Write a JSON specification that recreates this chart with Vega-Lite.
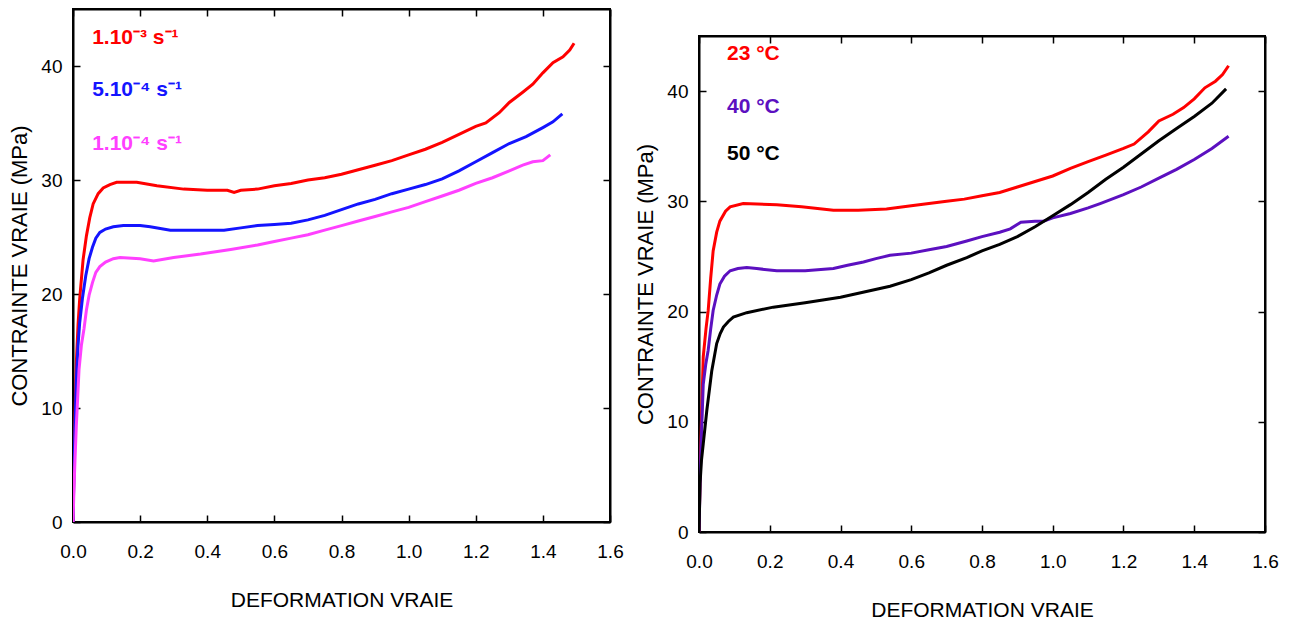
{
  "$schema": "https://vega.github.io/schema/vega-lite/v6.json",
  "background": "white",
  "padding": {"left": 7, "top": 7, "right": 5, "bottom": 5},
  "spacing": 8,
  "config": {
    "view": {"stroke": "black", "strokeWidth": 2},
    "axis": {
      "domainColor": "black", "domainWidth": 2,
      "tickColor": "black", "tickWidth": 1.5, "tickSize": -7,
      "labelFlush": false, "grid": false,
      "labelFont": "Liberation Sans", "labelFontSize": 19, "labelColor": "black",
      "titleFont": "Liberation Sans", "titleFontWeight": "normal", "titleColor": "black"
    },
    "axisX": {"labelPadding": 27, "titleFontSize": 21, "titlePadding": 28},
    "axisY": {"labelPadding": 18, "titleFontSize": 22, "titlePadding": 9}
  },
  "datasets": {
    "curves": [
      {"p":"L","s":"1.10⁻³ s⁻¹","x":0,"y":0},{"p":"L","s":"1.10⁻³ s⁻¹","x":0.003,"y":5},{"p":"L","s":"1.10⁻³ s⁻¹","x":0.006,"y":9.5},{"p":"L","s":"1.10⁻³ s⁻¹","x":0.01,"y":14},{"p":"L","s":"1.10⁻³ s⁻¹","x":0.015,"y":17.3},{"p":"L","s":"1.10⁻³ s⁻¹","x":0.02,"y":19.6},{"p":"L","s":"1.10⁻³ s⁻¹","x":0.03,"y":23},{"p":"L","s":"1.10⁻³ s⁻¹","x":0.04,"y":25.1},{"p":"L","s":"1.10⁻³ s⁻¹","x":0.05,"y":26.7},{"p":"L","s":"1.10⁻³ s⁻¹","x":0.06,"y":27.9},{"p":"L","s":"1.10⁻³ s⁻¹","x":0.075,"y":28.8},{"p":"L","s":"1.10⁻³ s⁻¹","x":0.09,"y":29.3},{"p":"L","s":"1.10⁻³ s⁻¹","x":0.11,"y":29.6},{"p":"L","s":"1.10⁻³ s⁻¹","x":0.13,"y":29.8},{"p":"L","s":"1.10⁻³ s⁻¹","x":0.19,"y":29.8},{"p":"L","s":"1.10⁻³ s⁻¹","x":0.25,"y":29.5},{"p":"L","s":"1.10⁻³ s⁻¹","x":0.33,"y":29.2},{"p":"L","s":"1.10⁻³ s⁻¹","x":0.4,"y":29.1},{"p":"L","s":"1.10⁻³ s⁻¹","x":0.46,"y":29.1},{"p":"L","s":"1.10⁻³ s⁻¹","x":0.48,"y":28.9},{"p":"L","s":"1.10⁻³ s⁻¹","x":0.5,"y":29.1},{"p":"L","s":"1.10⁻³ s⁻¹","x":0.55,"y":29.2},{"p":"L","s":"1.10⁻³ s⁻¹","x":0.6,"y":29.5},{"p":"L","s":"1.10⁻³ s⁻¹","x":0.65,"y":29.7},{"p":"L","s":"1.10⁻³ s⁻¹","x":0.7,"y":30.0},{"p":"L","s":"1.10⁻³ s⁻¹","x":0.75,"y":30.2},{"p":"L","s":"1.10⁻³ s⁻¹","x":0.8,"y":30.5},{"p":"L","s":"1.10⁻³ s⁻¹","x":0.85,"y":30.9},{"p":"L","s":"1.10⁻³ s⁻¹","x":0.9,"y":31.3},{"p":"L","s":"1.10⁻³ s⁻¹","x":0.95,"y":31.7},{"p":"L","s":"1.10⁻³ s⁻¹","x":1.0,"y":32.2},{"p":"L","s":"1.10⁻³ s⁻¹","x":1.05,"y":32.7},{"p":"L","s":"1.10⁻³ s⁻¹","x":1.1,"y":33.3},{"p":"L","s":"1.10⁻³ s⁻¹","x":1.15,"y":34.0},{"p":"L","s":"1.10⁻³ s⁻¹","x":1.2,"y":34.7},{"p":"L","s":"1.10⁻³ s⁻¹","x":1.23,"y":35.0},{"p":"L","s":"1.10⁻³ s⁻¹","x":1.27,"y":35.9},{"p":"L","s":"1.10⁻³ s⁻¹","x":1.3,"y":36.8},{"p":"L","s":"1.10⁻³ s⁻¹","x":1.34,"y":37.7},{"p":"L","s":"1.10⁻³ s⁻¹","x":1.37,"y":38.4},{"p":"L","s":"1.10⁻³ s⁻¹","x":1.4,"y":39.4},{"p":"L","s":"1.10⁻³ s⁻¹","x":1.43,"y":40.3},{"p":"L","s":"1.10⁻³ s⁻¹","x":1.46,"y":40.8},{"p":"L","s":"1.10⁻³ s⁻¹","x":1.48,"y":41.4},{"p":"L","s":"1.10⁻³ s⁻¹","x":1.493,"y":42.0},
      {"p":"L","s":"5.10⁻⁴ s⁻¹","x":0,"y":0},{"p":"L","s":"5.10⁻⁴ s⁻¹","x":0.003,"y":4.5},{"p":"L","s":"5.10⁻⁴ s⁻¹","x":0.006,"y":8.5},{"p":"L","s":"5.10⁻⁴ s⁻¹","x":0.01,"y":12.5},{"p":"L","s":"5.10⁻⁴ s⁻¹","x":0.015,"y":15.5},{"p":"L","s":"5.10⁻⁴ s⁻¹","x":0.02,"y":17.5},{"p":"L","s":"5.10⁻⁴ s⁻¹","x":0.028,"y":19.6},{"p":"L","s":"5.10⁻⁴ s⁻¹","x":0.038,"y":21.6},{"p":"L","s":"5.10⁻⁴ s⁻¹","x":0.048,"y":23.1},{"p":"L","s":"5.10⁻⁴ s⁻¹","x":0.058,"y":24.1},{"p":"L","s":"5.10⁻⁴ s⁻¹","x":0.068,"y":24.9},{"p":"L","s":"5.10⁻⁴ s⁻¹","x":0.08,"y":25.4},{"p":"L","s":"5.10⁻⁴ s⁻¹","x":0.097,"y":25.7},{"p":"L","s":"5.10⁻⁴ s⁻¹","x":0.12,"y":25.9},{"p":"L","s":"5.10⁻⁴ s⁻¹","x":0.15,"y":26.0},{"p":"L","s":"5.10⁻⁴ s⁻¹","x":0.2,"y":26.0},{"p":"L","s":"5.10⁻⁴ s⁻¹","x":0.23,"y":25.9},{"p":"L","s":"5.10⁻⁴ s⁻¹","x":0.29,"y":25.6},{"p":"L","s":"5.10⁻⁴ s⁻¹","x":0.35,"y":25.6},{"p":"L","s":"5.10⁻⁴ s⁻¹","x":0.45,"y":25.6},{"p":"L","s":"5.10⁻⁴ s⁻¹","x":0.5,"y":25.8},{"p":"L","s":"5.10⁻⁴ s⁻¹","x":0.55,"y":26.0},{"p":"L","s":"5.10⁻⁴ s⁻¹","x":0.6,"y":26.1},{"p":"L","s":"5.10⁻⁴ s⁻¹","x":0.65,"y":26.2},{"p":"L","s":"5.10⁻⁴ s⁻¹","x":0.7,"y":26.5},{"p":"L","s":"5.10⁻⁴ s⁻¹","x":0.75,"y":26.9},{"p":"L","s":"5.10⁻⁴ s⁻¹","x":0.8,"y":27.4},{"p":"L","s":"5.10⁻⁴ s⁻¹","x":0.85,"y":27.9},{"p":"L","s":"5.10⁻⁴ s⁻¹","x":0.9,"y":28.3},{"p":"L","s":"5.10⁻⁴ s⁻¹","x":0.95,"y":28.8},{"p":"L","s":"5.10⁻⁴ s⁻¹","x":1.0,"y":29.2},{"p":"L","s":"5.10⁻⁴ s⁻¹","x":1.05,"y":29.6},{"p":"L","s":"5.10⁻⁴ s⁻¹","x":1.1,"y":30.1},{"p":"L","s":"5.10⁻⁴ s⁻¹","x":1.15,"y":30.8},{"p":"L","s":"5.10⁻⁴ s⁻¹","x":1.2,"y":31.6},{"p":"L","s":"5.10⁻⁴ s⁻¹","x":1.25,"y":32.4},{"p":"L","s":"5.10⁻⁴ s⁻¹","x":1.3,"y":33.2},{"p":"L","s":"5.10⁻⁴ s⁻¹","x":1.35,"y":33.8},{"p":"L","s":"5.10⁻⁴ s⁻¹","x":1.4,"y":34.6},{"p":"L","s":"5.10⁻⁴ s⁻¹","x":1.43,"y":35.1},{"p":"L","s":"5.10⁻⁴ s⁻¹","x":1.458,"y":35.8},
      {"p":"L","s":"1.10⁻⁴ s⁻¹","x":0,"y":0},{"p":"L","s":"1.10⁻⁴ s⁻¹","x":0.003,"y":3},{"p":"L","s":"1.10⁻⁴ s⁻¹","x":0.006,"y":5.5},{"p":"L","s":"1.10⁻⁴ s⁻¹","x":0.01,"y":8.5},{"p":"L","s":"1.10⁻⁴ s⁻¹","x":0.018,"y":13.4},{"p":"L","s":"1.10⁻⁴ s⁻¹","x":0.025,"y":15.5},{"p":"L","s":"1.10⁻⁴ s⁻¹","x":0.033,"y":17.0},{"p":"L","s":"1.10⁻⁴ s⁻¹","x":0.04,"y":18.6},{"p":"L","s":"1.10⁻⁴ s⁻¹","x":0.048,"y":19.9},{"p":"L","s":"1.10⁻⁴ s⁻¹","x":0.058,"y":21.0},{"p":"L","s":"1.10⁻⁴ s⁻¹","x":0.068,"y":21.9},{"p":"L","s":"1.10⁻⁴ s⁻¹","x":0.08,"y":22.4},{"p":"L","s":"1.10⁻⁴ s⁻¹","x":0.097,"y":22.8},{"p":"L","s":"1.10⁻⁴ s⁻¹","x":0.12,"y":23.1},{"p":"L","s":"1.10⁻⁴ s⁻¹","x":0.14,"y":23.2},{"p":"L","s":"1.10⁻⁴ s⁻¹","x":0.2,"y":23.1},{"p":"L","s":"1.10⁻⁴ s⁻¹","x":0.24,"y":22.9},{"p":"L","s":"1.10⁻⁴ s⁻¹","x":0.3,"y":23.2},{"p":"L","s":"1.10⁻⁴ s⁻¹","x":0.38,"y":23.5},{"p":"L","s":"1.10⁻⁴ s⁻¹","x":0.47,"y":23.9},{"p":"L","s":"1.10⁻⁴ s⁻¹","x":0.55,"y":24.3},{"p":"L","s":"1.10⁻⁴ s⁻¹","x":0.6,"y":24.6},{"p":"L","s":"1.10⁻⁴ s⁻¹","x":0.65,"y":24.9},{"p":"L","s":"1.10⁻⁴ s⁻¹","x":0.7,"y":25.2},{"p":"L","s":"1.10⁻⁴ s⁻¹","x":0.75,"y":25.6},{"p":"L","s":"1.10⁻⁴ s⁻¹","x":0.8,"y":26.0},{"p":"L","s":"1.10⁻⁴ s⁻¹","x":0.85,"y":26.4},{"p":"L","s":"1.10⁻⁴ s⁻¹","x":0.9,"y":26.8},{"p":"L","s":"1.10⁻⁴ s⁻¹","x":0.95,"y":27.2},{"p":"L","s":"1.10⁻⁴ s⁻¹","x":1.0,"y":27.6},{"p":"L","s":"1.10⁻⁴ s⁻¹","x":1.05,"y":28.1},{"p":"L","s":"1.10⁻⁴ s⁻¹","x":1.1,"y":28.6},{"p":"L","s":"1.10⁻⁴ s⁻¹","x":1.15,"y":29.1},{"p":"L","s":"1.10⁻⁴ s⁻¹","x":1.2,"y":29.7},{"p":"L","s":"1.10⁻⁴ s⁻¹","x":1.25,"y":30.2},{"p":"L","s":"1.10⁻⁴ s⁻¹","x":1.3,"y":30.8},{"p":"L","s":"1.10⁻⁴ s⁻¹","x":1.34,"y":31.3},{"p":"L","s":"1.10⁻⁴ s⁻¹","x":1.37,"y":31.6},{"p":"L","s":"1.10⁻⁴ s⁻¹","x":1.4,"y":31.7},{"p":"L","s":"1.10⁻⁴ s⁻¹","x":1.422,"y":32.2},
      {"p":"R","s":"23 °C","x":0,"y":0},{"p":"R","s":"23 °C","x":0.003,"y":5},{"p":"R","s":"23 °C","x":0.006,"y":9},{"p":"R","s":"23 °C","x":0.012,"y":15.9},{"p":"R","s":"23 °C","x":0.02,"y":18.5},{"p":"R","s":"23 °C","x":0.026,"y":20.1},{"p":"R","s":"23 °C","x":0.033,"y":23},{"p":"R","s":"23 °C","x":0.04,"y":25.5},{"p":"R","s":"23 °C","x":0.05,"y":27.2},{"p":"R","s":"23 °C","x":0.059,"y":28.2},{"p":"R","s":"23 °C","x":0.075,"y":29.1},{"p":"R","s":"23 °C","x":0.088,"y":29.5},{"p":"R","s":"23 °C","x":0.125,"y":29.8},{"p":"R","s":"23 °C","x":0.22,"y":29.7},{"p":"R","s":"23 °C","x":0.29,"y":29.5},{"p":"R","s":"23 °C","x":0.38,"y":29.2},{"p":"R","s":"23 °C","x":0.45,"y":29.2},{"p":"R","s":"23 °C","x":0.53,"y":29.3},{"p":"R","s":"23 °C","x":0.6,"y":29.6},{"p":"R","s":"23 °C","x":0.65,"y":29.8},{"p":"R","s":"23 °C","x":0.7,"y":30.0},{"p":"R","s":"23 °C","x":0.75,"y":30.2},{"p":"R","s":"23 °C","x":0.8,"y":30.5},{"p":"R","s":"23 °C","x":0.85,"y":30.8},{"p":"R","s":"23 °C","x":0.9,"y":31.3},{"p":"R","s":"23 °C","x":0.95,"y":31.8},{"p":"R","s":"23 °C","x":1.0,"y":32.3},{"p":"R","s":"23 °C","x":1.05,"y":33.0},{"p":"R","s":"23 °C","x":1.1,"y":33.6},{"p":"R","s":"23 °C","x":1.15,"y":34.2},{"p":"R","s":"23 °C","x":1.2,"y":34.8},{"p":"R","s":"23 °C","x":1.23,"y":35.2},{"p":"R","s":"23 °C","x":1.27,"y":36.3},{"p":"R","s":"23 °C","x":1.3,"y":37.3},{"p":"R","s":"23 °C","x":1.34,"y":37.9},{"p":"R","s":"23 °C","x":1.37,"y":38.5},{"p":"R","s":"23 °C","x":1.4,"y":39.3},{"p":"R","s":"23 °C","x":1.43,"y":40.3},{"p":"R","s":"23 °C","x":1.46,"y":40.9},{"p":"R","s":"23 °C","x":1.48,"y":41.5},{"p":"R","s":"23 °C","x":1.497,"y":42.3},
      {"p":"R","s":"40 °C","x":0,"y":0},{"p":"R","s":"40 °C","x":0.003,"y":4.5},{"p":"R","s":"40 °C","x":0.006,"y":8},{"p":"R","s":"40 °C","x":0.012,"y":13.4},{"p":"R","s":"40 °C","x":0.019,"y":15.2},{"p":"R","s":"40 °C","x":0.026,"y":16.5},{"p":"R","s":"40 °C","x":0.033,"y":18.4},{"p":"R","s":"40 °C","x":0.04,"y":20.1},{"p":"R","s":"40 °C","x":0.05,"y":21.5},{"p":"R","s":"40 °C","x":0.059,"y":22.5},{"p":"R","s":"40 °C","x":0.072,"y":23.2},{"p":"R","s":"40 °C","x":0.088,"y":23.7},{"p":"R","s":"40 °C","x":0.11,"y":23.9},{"p":"R","s":"40 °C","x":0.135,"y":24.0},{"p":"R","s":"40 °C","x":0.163,"y":23.9},{"p":"R","s":"40 °C","x":0.22,"y":23.7},{"p":"R","s":"40 °C","x":0.3,"y":23.7},{"p":"R","s":"40 °C","x":0.38,"y":23.9},{"p":"R","s":"40 °C","x":0.42,"y":24.2},{"p":"R","s":"40 °C","x":0.465,"y":24.5},{"p":"R","s":"40 °C","x":0.5,"y":24.8},{"p":"R","s":"40 °C","x":0.54,"y":25.1},{"p":"R","s":"40 °C","x":0.6,"y":25.3},{"p":"R","s":"40 °C","x":0.65,"y":25.6},{"p":"R","s":"40 °C","x":0.7,"y":25.9},{"p":"R","s":"40 °C","x":0.757,"y":26.4},{"p":"R","s":"40 °C","x":0.8,"y":26.8},{"p":"R","s":"40 °C","x":0.85,"y":27.2},{"p":"R","s":"40 °C","x":0.88,"y":27.5},{"p":"R","s":"40 °C","x":0.91,"y":28.1},{"p":"R","s":"40 °C","x":0.95,"y":28.2},{"p":"R","s":"40 °C","x":0.974,"y":28.2},{"p":"R","s":"40 °C","x":1.0,"y":28.5},{"p":"R","s":"40 °C","x":1.05,"y":28.9},{"p":"R","s":"40 °C","x":1.1,"y":29.4},{"p":"R","s":"40 °C","x":1.134,"y":29.8},{"p":"R","s":"40 °C","x":1.2,"y":30.6},{"p":"R","s":"40 °C","x":1.25,"y":31.3},{"p":"R","s":"40 °C","x":1.3,"y":32.1},{"p":"R","s":"40 °C","x":1.35,"y":32.9},{"p":"R","s":"40 °C","x":1.4,"y":33.8},{"p":"R","s":"40 °C","x":1.45,"y":34.8},{"p":"R","s":"40 °C","x":1.497,"y":35.9},
      {"p":"R","s":"50 °C","x":0,"y":0},{"p":"R","s":"50 °C","x":0.003,"y":4.4},{"p":"R","s":"50 °C","x":0.007,"y":6.5},{"p":"R","s":"50 °C","x":0.012,"y":8.0},{"p":"R","s":"50 °C","x":0.022,"y":11.0},{"p":"R","s":"50 °C","x":0.036,"y":14.6},{"p":"R","s":"50 °C","x":0.05,"y":17.1},{"p":"R","s":"50 °C","x":0.06,"y":18.0},{"p":"R","s":"50 °C","x":0.069,"y":18.6},{"p":"R","s":"50 °C","x":0.083,"y":19.1},{"p":"R","s":"50 °C","x":0.097,"y":19.5},{"p":"R","s":"50 °C","x":0.135,"y":19.9},{"p":"R","s":"50 °C","x":0.21,"y":20.4},{"p":"R","s":"50 °C","x":0.3,"y":20.8},{"p":"R","s":"50 °C","x":0.4,"y":21.3},{"p":"R","s":"50 °C","x":0.47,"y":21.8},{"p":"R","s":"50 °C","x":0.54,"y":22.3},{"p":"R","s":"50 °C","x":0.6,"y":22.9},{"p":"R","s":"50 °C","x":0.65,"y":23.5},{"p":"R","s":"50 °C","x":0.7,"y":24.2},{"p":"R","s":"50 °C","x":0.757,"y":24.9},{"p":"R","s":"50 °C","x":0.8,"y":25.5},{"p":"R","s":"50 °C","x":0.85,"y":26.1},{"p":"R","s":"50 °C","x":0.9,"y":26.8},{"p":"R","s":"50 °C","x":0.95,"y":27.7},{"p":"R","s":"50 °C","x":1.0,"y":28.7},{"p":"R","s":"50 °C","x":1.05,"y":29.7},{"p":"R","s":"50 °C","x":1.1,"y":30.8},{"p":"R","s":"50 °C","x":1.15,"y":32.0},{"p":"R","s":"50 °C","x":1.2,"y":33.1},{"p":"R","s":"50 °C","x":1.25,"y":34.3},{"p":"R","s":"50 °C","x":1.3,"y":35.5},{"p":"R","s":"50 °C","x":1.35,"y":36.6},{"p":"R","s":"50 °C","x":1.4,"y":37.7},{"p":"R","s":"50 °C","x":1.45,"y":38.9},{"p":"R","s":"50 °C","x":1.49,"y":40.2}
    ],
    "labels": [
      {"p":"L","s":"1.10⁻³ s⁻¹","lx":0.057,"ly":42.5},
      {"p":"L","s":"5.10⁻⁴ s⁻¹","lx":0.057,"ly":37.9},
      {"p":"L","s":"1.10⁻⁴ s⁻¹","lx":0.057,"ly":33.2},
      {"p":"R","s":"23 °C","lx":0.079,"ly":43.4},
      {"p":"R","s":"40 °C","lx":0.079,"ly":38.6},
      {"p":"R","s":"50 °C","lx":0.079,"ly":34.3}
    ]
  },
  "resolve": {"scale": {"color": "shared"}},
  "hconcat": [
    {
      "width": 537, "height": 513,
      "layer": [
        {
          "data": {"name": "curves"},
          "transform": [{"filter": "datum.p === 'L'"}],
          "mark": {"type": "line", "strokeWidth": 3, "clip": true},
          "encoding": {
            "x": {"field": "x", "type": "quantitative", "scale": {"domain": [0, 1.6]},
                  "axis": {"values": [0,0.2,0.4,0.6,0.8,1.0,1.2,1.4,1.6], "format": ".1f", "title": "DEFORMATION VRAIE"}},
            "y": {"field": "y", "type": "quantitative", "scale": {"domain": [0, 45]},
                  "axis": {"values": [0,10,20,30,40], "title": "CONTRAINTE VRAIE (MPa)"}},
            "color": {"field": "s", "type": "nominal",
                      "scale": {"domain": ["1.10⁻³ s⁻¹","5.10⁻⁴ s⁻¹","1.10⁻⁴ s⁻¹","23 °C","40 °C","50 °C"],
                                "range": ["#ff0000","#1414ff","#ff40ff","#ff0000","#5c10c0","#000000"]},
                      "legend": null}
          }
        },
        {
          "data": {"name": "labels"},
          "transform": [{"filter": "datum.p === 'L'"}],
          "mark": {"type": "text", "align": "left", "baseline": "middle", "fontWeight": "bold", "fontSize": 21, "font": "Liberation Sans"},
          "encoding": {
            "x": {"field": "lx", "type": "quantitative", "axis": {"orient": "top", "labels": false, "title": null, "values": [0,0.2,0.4,0.6,0.8,1.0,1.2,1.4,1.6]}},
            "y": {"field": "ly", "type": "quantitative", "axis": {"orient": "right", "labels": false, "title": null, "values": [0,10,20,30,40]}},
            "text": {"field": "s"},
            "color": {"field": "s", "type": "nominal", "legend": null}
          }
        }
      ],
      "resolve": {"axis": {"x": "independent", "y": "independent"}}
    },
    {
      "spacing": 0,
      "vconcat": [
        {
          "width": 566, "height": 25,
          "view": {"stroke": null},
          "data": {"values": [{}]},
          "mark": {"type": "rule", "opacity": 0},
          "encoding": {}
        },
        {
          "width": 566, "height": 496,
          "layer": [
            {
              "data": {"name": "curves"},
              "transform": [{"filter": "datum.p === 'R'"}],
              "mark": {"type": "line", "strokeWidth": 3, "clip": true},
              "encoding": {
                "x": {"field": "x", "type": "quantitative", "scale": {"domain": [0, 1.6]},
                      "axis": {"values": [0,0.2,0.4,0.6,0.8,1.0,1.2,1.4,1.6], "format": ".1f", "title": "DEFORMATION VRAIE"}},
                "y": {"field": "y", "type": "quantitative", "scale": {"domain": [0, 45]},
                      "axis": {"values": [0,10,20,30,40], "title": "CONTRAINTE VRAIE (MPa)"}},
                "color": {"field": "s", "type": "nominal", "legend": null}
              }
            },
            {
              "data": {"name": "labels"},
              "transform": [{"filter": "datum.p === 'R'"}],
              "mark": {"type": "text", "align": "left", "baseline": "middle", "fontWeight": "bold", "fontSize": 21, "font": "Liberation Sans"},
              "encoding": {
                "x": {"field": "lx", "type": "quantitative", "axis": {"orient": "top", "labels": false, "title": null, "values": [0,0.2,0.4,0.6,0.8,1.0,1.2,1.4,1.6]}},
                "y": {"field": "ly", "type": "quantitative", "axis": {"orient": "right", "labels": false, "title": null, "values": [0,10,20,30,40]}},
                "text": {"field": "s"},
                "color": {"field": "s", "type": "nominal", "legend": null}
              }
            }
          ],
          "resolve": {"axis": {"x": "independent", "y": "independent"}}
        }
      ]
    }
  ]
}
